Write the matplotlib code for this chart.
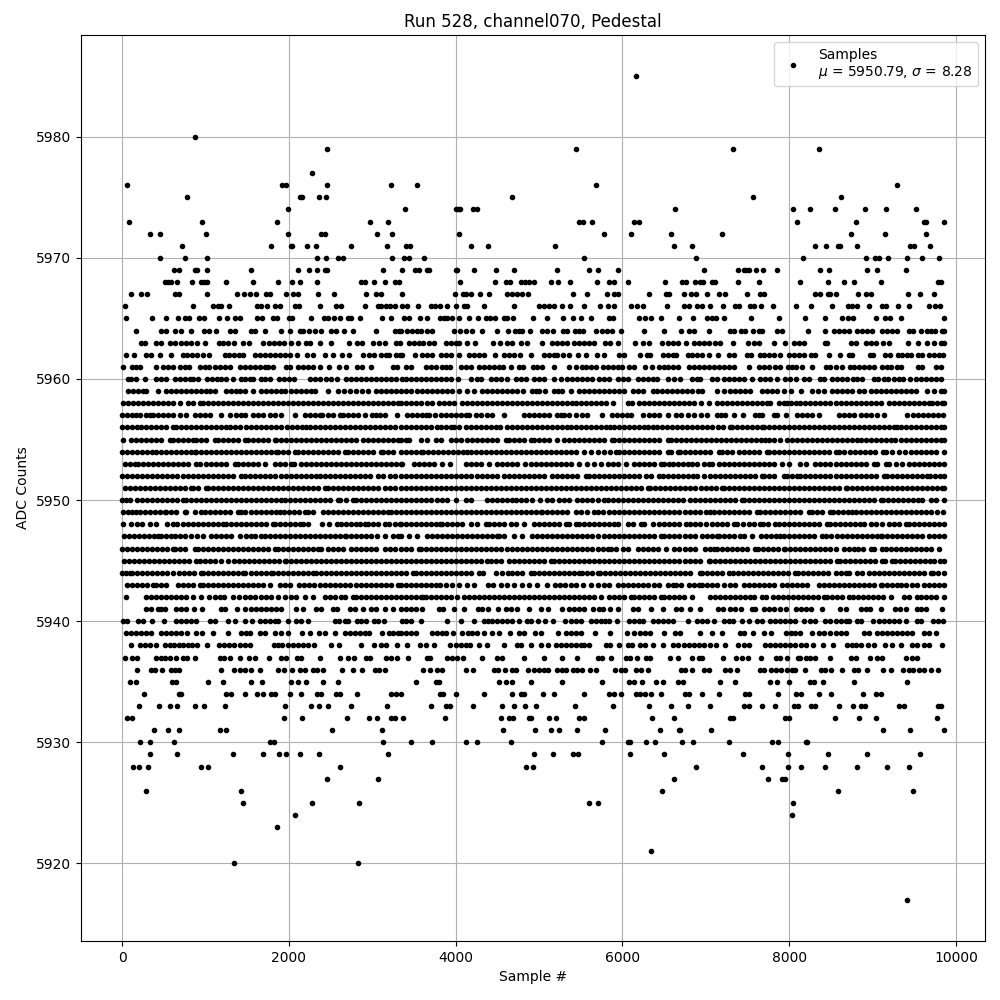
import matplotlib
matplotlib.use('Agg')
import matplotlib.pyplot as plt

# Sample numbers, one list per ADC count
s5985 = [6168]
s5980 = [870]
s5979 = [2454, 5445, 7323, 8355]
s5977 = [2274]
s5976 = [54, 1914, 1962, 2454, 3222, 3537, 5685, 9291]
s5975 = [774, 2134, 2158, 2358, 2442, 4677, 7563, 8619]
s5974 = [1986, 3393, 4001, 4030, 4053, 4209, 4253, 6633, 8043, 8247, 8547, 8907, 9159, 9519]
s5973 = [78, 954, 1854, 2970, 3186, 5481, 5529, 5637, 6141, 6201, 8091, 8799, 9620, 9640, 9855]
s5972 = [330, 450, 1002, 1986, 2382, 2430, 3054, 3234, 4041, 5781, 6105, 6585, 7191, 8739, 9147, 9639]
s5971 = [714, 1782, 2022, 2040, 2214, 2322, 2742, 3174, 3405, 3453, 4185, 4389, 5193, 6621, 6837,
         8307, 8439, 8583, 8607, 8811, 9447, 9495, 9687]
s5970 = [450, 750, 1014, 2334, 2442, 2586, 2646, 3234, 3381, 3441, 3621, 5541, 6885, 8163, 8919,
         9027, 9075, 9183, 9411, 9591, 9795]
s5969 = [618, 678, 870, 894, 1014, 1542, 2106, 2238, 2334, 2430, 2462, 3126, 3361, 3513, 3561,
         3661, 3681, 4005, 4021, 4221, 4485, 4701, 5217, 5601, 5709, 5949, 6975, 7383, 7455, 7485,
         7515, 7599, 7683, 7851, 8367, 8475, 8931, 9051, 9399]
s5968 = [510, 550, 582, 654, 834, 942, 982, 1022, 1242, 1566, 1866, 2034, 2130, 2334, 2862, 2910,
         3018, 3150, 3270, 3318, 4053, 4473, 4601, 4653, 4781, 4829, 4881, 4941, 5145, 5229, 5373,
         5697, 5841, 5901, 6069, 6513, 6717, 6765, 6867, 6927, 6967, 7075, 7115, 7383, 7635, 8127,
         8463, 8655, 8775, 9099, 9783, 9815]
s5967 = [102, 230, 294, 638, 678, 1014, 1374, 1458, 1530, 1602, 1722, 1770, 1962, 2046, 2110, 2346,
         2538, 2922, 3042, 3110, 3361, 3993, 4089, 4129, 4185, 4289, 4401, 4621, 4681, 4741, 4801,
         4869, 5409, 5577, 5817, 5901, 5949, 6321, 6521, 6561, 6741, 6825, 6885,
         7011, 7155, 7227, 7491, 7655, 7695, 8307, 8375, 8463, 8495, 8559, 8823, 8919, 8975, 9423,
         9567, 9735]
s5966 = [30, 846, 1090, 1150, 1190, 1278, 1614, 1670, 1738, 1838, 1890, 2070, 2118, 2370, 2562, 2622,
         2910, 3070, 3110, 3162, 3210, 3270, 3361, 3421, 3549, 3701, 3749, 3813, 3897, 4005, 4101,
         4141, 4341, 4701, 5001, 5061, 5121, 5181, 5273, 5373, 5541, 5733, 5821, 5901, 6105, 6177,
         6249, 6537, 6741, 6801, 6895, 6955, 7047, 7203, 7347, 7399, 7535, 7575,
         7659, 7811, 8079, 8259, 8511, 8703, 8755, 8815, 8955, 9115, 9155, 9303, 9435, 9675, 9747, 9807]
s5965 = [42, 354, 522, 670, 750, 798, 918, 978, 1158, 1262, 1358, 1418, 1614, 1674, 1814, 1862, 1998,
         2042, 2262, 2418, 2470, 2538, 2610, 2710, 2750, 2850, 3114, 3222, 3381, 3441, 3573, 3661,
         3813, 3861, 3901, 3961, 4041, 4161, 4269, 4361, 4413, 4473, 4581, 4621, 4693, 4929, 5097,
         5293, 5409, 5505, 5621, 5841, 5889, 6201, 6273, 6345, 6465, 6681, 6843, 7015, 7075, 7127,
         7215, 7539, 7875, 8187, 8427, 8631, 8703, 8763, 9039, 9147, 9207, 9339, 9855]
s5964 = [162, 462, 522, 638, 702, 822, 978, 1038, 1130, 1290, 1358, 1550, 1590, 1710, 1902, 2018, 2130,
         2170, 2238, 2310, 2382, 2510, 2570, 2658, 2766, 3042, 3270, 3318, 3341, 3413, 3473, 3533,
         3589, 3653, 3713, 3981, 4053, 4121, 4201, 4317, 4497, 4629, 4709, 4761, 4801, 4893, 5037,
         5093, 5169, 5289, 5341, 5429, 5481, 5529, 5681, 5753, 5813, 5873, 5985, 6261, 6501, 6705,
         6801, 6861, 7035, 7295, 7335, 7427, 7467, 7563, 7635, 7675, 7855, 7915, 8223,
         8427, 8535, 8595, 8655, 8715, 8815, 8875, 8935, 8995, 9115, 9175, 9235, 9295, 9435, 9487,
         9579, 9647, 9695, 9747, 9835, 9852]
s5963 = [230, 270, 410, 470, 570, 630, 710, 770, 830, 902, 990, 1158, 1210, 1270, 1342, 1446, 1518, 1686,
         1758, 1818, 1878, 1938, 2022, 2110, 2210, 2250, 2370, 2510, 2718, 2814, 2874, 3006, 3078, 3150,
         3290, 3330, 3441, 3501, 3561, 3613, 3681, 3741, 3881, 3941, 4001, 4041, 4141, 4233, 4453, 4533,
         4621, 4681, 4781, 4861, 5037, 5161, 5221, 5281, 5341, 5421, 5481, 5541, 5601, 5653, 5789, 5853,
         5941, 6153, 6249, 6321, 6473, 6541, 6601, 6669, 6761, 6863, 6915, 6975, 7035,
         7115, 7175, 7323, 7503, 7575, 7635, 7815, 7947, 8055, 8115, 8175, 8427, 8455, 8743, 8795, 8915,
         8975, 9035, 9123, 9195, 9423, 9543, 9655, 9735, 9823, 9853]
s5962 = [42, 138, 290, 350, 450, 582, 730, 782, 838, 902, 970, 1038, 1230, 1278, 1338, 1398, 1450, 1590,
         1650, 1710, 1770, 1830, 1890, 1950, 2010, 2094, 2222, 2290, 2430, 2526, 2634, 2718, 2886, 2958,
         3018, 3110, 3170, 3198, 3290, 3330, 3361, 3509, 3601, 3661, 3721, 3821, 3881, 3941, 4041, 4161,
         4221, 4281, 4341, 4469, 4581, 4641, 4701, 4773, 4901, 5061, 5121, 5181, 5221, 5289, 5361, 5469,
         5565, 5693, 5781, 5961, 6021, 6213, 6289, 6333, 6481, 6541, 6601, 6641, 6789, 6835,
         6895, 6955, 7035, 7143, 7275, 7335, 7495, 7543, 7647, 7695, 7755, 7815, 7887, 7995, 8055,
         8115, 8175, 8267, 8315, 8483, 8603, 8715, 8755, 8967, 9007, 9147, 9207, 9303, 9355, 9415, 9455,
         9543, 9595, 9675, 9735, 9795, 9843]
s5961 = [6, 114, 170, 210, 410, 490, 550, 610, 690, 750, 798, 930, 990, 1038, 1110, 1170, 1230, 1290, 1410,
         1470, 1530, 1590, 1650, 1710, 1750, 1810, 1970, 2018, 2110, 2170, 2230, 2286, 2370, 2478, 2598,
         2682, 2818, 2874, 2982, 3250, 3302, 3401, 3461, 3641, 3701, 3761, 3841, 3881, 3933, 4061, 4121,
         4189, 4281, 4341, 4401, 4461, 4521, 4573, 4661, 4761, 4813, 4929, 4981, 5037, 5181, 5361, 5445,
         5513, 5561, 5621, 5681, 5761, 5821, 5881, 5941, 5993, 6081, 6141, 6273, 6349, 6441, 6501, 6541,
         6601, 6669, 6795, 6855, 6915, 6975, 7035, 7095, 7155, 7215, 7275, 7335, 7523,
         7635, 7695, 7755, 7835, 7887, 7983, 8035, 8083, 8155, 8271, 8447, 8495, 8555, 8631, 8727, 8775,
         8835, 8895, 8955, 9015, 9115, 9175, 9223, 9287, 9343, 9543, 9595, 9763, 9823]
s5960 = [70, 110, 170, 278, 410, 470, 530, 630, 690, 750, 810, 850, 910, 1022, 1082, 1142, 1190, 1250, 1326,
         1430, 1478, 1530, 1570, 1662, 1710, 1770, 1878, 1942, 1998, 2062, 2250, 2310, 2370, 2450, 2510,
         2578, 2690, 2750, 2810, 2870, 2930, 2990, 3050, 3110, 3170, 3230, 3290, 3361, 3401, 3461, 3521,
         3581, 3641, 3701, 3761, 3821, 3881, 3941, 4029, 4185, 4261, 4301, 4421, 4481, 4541, 4621, 4721,
         4781, 4841, 4941, 5001, 5061, 5181, 5261, 5341, 5401, 5461, 5521, 5581, 5641, 5721, 5781, 5841,
         5941, 6001, 6061, 6181, 6241, 6301, 6361, 6413, 6541, 6621, 6693, 6835, 6895, 6935,
         7075, 7135, 7215, 7275, 7335, 7395, 7455, 7551, 7655, 7715, 7775, 7855, 7955, 8015, 8087, 8183,
         8235, 8375, 8423, 8515, 8575, 8635, 8687, 8767, 8815, 8875, 9015, 9063, 9135, 9183, 9255, 9315,
         9363, 9443, 9515, 9575, 9635, 9695, 9755, 9815]
s5959 = [70, 130, 190, 245, 290, 430, 530, 590, 650, 710, 770, 830, 890, 950, 1010, 1060, 1110, 1250, 1310,
         1365, 1410, 1478, 1570, 1670, 1730, 1790, 1850, 1900, 1950, 2030, 2090, 2150, 2210, 2260, 2310,
         2470, 2590, 2660, 2730, 2810, 2880, 2950, 3050, 3110, 3170, 3230, 3290, 3350, 3400, 3461, 3541,
         3601, 3661, 3720, 3780, 3840, 3900, 3960, 4041, 4141, 4221, 4321, 4380, 4440, 4501, 4561, 4620,
         4680, 4741, 4809, 4921, 4961, 5001, 5073, 5181, 5230, 5281, 5385, 5481, 5540, 5600, 5660, 5720,
         5780, 5840, 5901, 5961, 6021, 6121, 6181, 6241, 6361, 6420, 6480, 6540, 6600, 6660, 6720, 6780,
         6840, 6901, 6955, 7135, 7215, 7295, 7355, 7415, 7475, 7535, 7675, 7735, 7795, 7855, 7935, 8023,
         8139, 8275, 8340, 8415, 8515, 8575, 8635, 8695, 8755, 8835, 8895, 8975, 9035, 9095, 9155, 9215,
         9275, 9335, 9395, 9455, 9515, 9655, 9735, 9815, 9852]
s5958 = [10, 70, 130, 190, 250, 310, 370, 430, 490, 550, 610, 690, 790, 850, 930, 970, 1030, 1090, 1150, 1210,
         1270, 1330, 1390, 1450, 1510, 1570, 1630, 1690, 1750, 1810, 1870, 1930, 1990, 2050, 2110, 2170,
         2230, 2290, 2350, 2410, 2470, 2530, 2590, 2650, 2710, 2770, 2830, 2890, 2950, 3010, 3070, 3130,
         3190, 3250, 3310, 3350, 3401, 3461, 3520, 3580, 3661, 3721, 3801, 3860, 3920, 3980, 4081, 4141,
         4200, 4260, 4320, 4380, 4440, 4500, 4560, 4620, 4680, 4740, 4800, 4860, 4920, 4980, 5040, 5101,
         5160, 5220, 5280, 5340, 5401, 5441, 5500, 5560, 5620, 5680, 5740, 5800, 5881, 6061, 6120, 6201,
         6261, 6321, 6381, 6440, 6500, 6560, 6620, 6680, 6740, 6800, 6860, 6941, 7035, 7135, 7195, 7255,
         7315, 7375, 7435, 7495, 7555, 7615, 7675, 7735, 7775, 7875, 7935, 7975, 8023, 8080, 8135, 8195,
         8255, 8315, 8375, 8435, 8495, 8555, 8615, 8675, 8735, 8795, 8855, 8915, 8975, 9035, 9095, 9195,
         9255, 9315, 9375, 9435, 9495, 9555, 9615, 9675, 9715, 9775, 9835, 9855]
s5957 = [0, 60, 120, 170, 220, 290, 330, 370, 430, 490, 550, 610, 690, 770, 870, 930, 990, 1050, 1182, 1290,
         1370, 1430, 1470, 1570, 1630, 1690, 1770, 1838, 1910, 2070, 2190, 2250, 2310, 2370, 2395, 2470,
         2530, 2610, 2650, 2710, 2770, 2830, 2910, 2998, 3050, 3090, 3150, 3302, 3421, 3480, 3540, 3600,
         3641, 3681, 3750, 3821, 3881, 3940, 4000, 4060, 4120, 4161, 4241, 4300, 4373, 4441, 4581, 4821,
         4880, 4940, 5001, 5061, 5121, 5221, 5260, 5301, 5361, 5449, 5510, 5581, 5757, 5869, 5930, 5990,
         6050, 6101, 6241, 6321, 6380, 6441, 6541, 6641, 6700, 6781, 6861, 6945, 7015, 7135, 7185,
         7235, 7335, 7447, 7595, 7635, 7675, 7815, 7855, 7963, 8095, 8155, 8215, 8275, 8363, 8595, 8655,
         8715, 8775, 8855, 8915, 8975, 9055, 9135, 9415, 9480, 9540, 9600, 9660, 9720, 9790, 9850]
s5956 = [0, 60, 120, 180, 230, 290, 350, 410, 470, 530, 610, 650, 710, 770, 830, 890, 950, 1010, 1070, 1130,
         1190, 1250, 1290, 1350, 1410, 1490, 1540, 1600, 1660, 1720, 1780, 1850, 1902, 1982, 2040, 2100,
         2160, 2210, 2250, 2310, 2370, 2430, 2490, 2550, 2610, 2670, 2730, 2790, 2850, 2910, 2970, 3030,
         3090, 3150, 3210, 3270, 3350, 3401, 3461, 3521, 3581, 3641, 3701, 3773, 3821, 3880, 3940, 3981,
         4041, 4121, 4189, 4241, 4300, 4360, 4420, 4480, 4533, 4613, 4670, 4730, 4790, 4850, 4910, 4970,
         5030, 5090, 5150, 5210, 5270, 5333, 5381, 5440, 5500, 5560, 5620, 5680, 5740, 5800, 5853, 5901,
         5960, 6020, 6080, 6140, 6200, 6260, 6301, 6361, 6420, 6480, 6540, 6600, 6660, 6720, 6780, 6840,
         6900, 6960, 7020, 7080, 7140, 7200, 7287, 7315, 7375, 7435, 7495, 7555, 7615, 7675, 7695, 7755,
         7815, 7875, 7935, 7995, 8055, 8115, 8175, 8235, 8295, 8355, 8415, 8475, 8535, 8595, 8655, 8715,
         8775, 8835, 8895, 8955, 9015, 9075, 9135, 9195, 9255, 9287, 9345, 9405, 9465, 9525, 9585, 9645,
         9705, 9765, 9825, 9855]
s5955 = [10, 110, 170, 230, 290, 350, 410, 470, 570, 610, 670, 730, 790, 850, 890, 950, 1010, 1110, 1150, 1210,
         1270, 1330, 1390, 1470, 1510, 1570, 1630, 1690, 1750, 1830, 1850, 1910, 1970, 2030, 2090, 2150,
         2210, 2270, 2330, 2390, 2450, 2510, 2570, 2630, 2690, 2750, 2810, 2890, 2950, 3010, 3070, 3130,
         3190, 3250, 3310, 3350, 3401, 3441, 3581, 3661, 3761, 3820, 3941, 4001, 4061, 4141, 4200, 4260,
         4320, 4380, 4440, 4500, 4601, 4641, 4700, 4760, 4820, 4901, 4941, 5000, 5060, 5120, 5221, 5301,
         5360, 5420, 5480, 5540, 5600, 5660, 5720, 5780, 5869, 5901, 5960, 6020, 6080, 6140, 6200, 6260,
         6320, 6380, 6440, 6541, 6581, 6640, 6700, 6760, 6820, 6880, 6941, 7000, 7060, 7120, 7180, 7240,
         7300, 7360, 7420, 7480, 7540, 7600, 7660, 7715, 7755, 7815, 7895, 7975, 8035, 8095, 8155, 8215,
         8275, 8335, 8395, 8455, 8515, 8575, 8635, 8695, 8755, 8815, 8855, 8915, 8975, 9035, 9095, 9155,
         9215, 9267, 9335, 9395, 9455, 9515, 9575, 9635, 9695, 9755, 9815, 9855]
s5954 = [0, 60, 120, 180, 240, 300, 360, 410, 470, 530, 590, 650, 710, 770, 830, 870, 890, 950, 1010, 1070,
         1130, 1190, 1250, 1310, 1370, 1430, 1490, 1550, 1610, 1670, 1730, 1790, 1850, 1870, 1930, 1990,
         2070, 2110, 2170, 2230, 2290, 2350, 2410, 2470, 2530, 2590, 2670, 2710, 2770, 2830, 2890, 2950,
         3010, 3110, 3130, 3190, 3250, 3350, 3401, 3461, 3521, 3581, 3613, 3673, 3733, 3793, 3853, 3913,
         3973, 4033, 4093, 4141, 4181, 4241, 4301, 4361, 4421, 4481, 4541, 4601, 4661, 4721, 4781, 4841,
         4901, 4961, 5021, 5081, 5141, 5201, 5261, 5321, 5381, 5441, 5541, 5621, 5701, 5781, 5850, 5921,
         5961, 6021, 6081, 6141, 6201, 6261, 6321, 6381, 6441, 6541, 6581, 6661,
         6695, 6755, 6815, 6875, 6935, 6995, 7055, 7155, 7195, 7255, 7315, 7395, 7455, 7515, 7575, 7635,
         7735, 7755, 7815, 7875, 7935, 7995, 8055, 8115, 8175, 8235, 8295, 8355, 8415, 8475, 8555, 8595,
         8660, 8727, 8787, 8847, 8907, 8967, 9027, 9127, 9155, 9235, 9315, 9383, 9463, 9523, 9583, 9643,
         9703, 9763, 9855]
s5953 = [38, 100, 150, 190, 250, 310, 370, 430, 490, 550, 610, 670, 730, 790, 890, 938, 1010, 1070, 1130, 1190,
         1250, 1350, 1390, 1450, 1510, 1570, 1630, 1710, 1830, 1890, 1950, 2030, 2062, 2150, 2210, 2270,
         2330, 2390, 2450, 2510, 2570, 2630, 2690, 2750, 2810, 2870, 2930, 2990, 3050, 3110, 3170, 3230,
         3290, 3350, 3361, 3501, 3561, 3621, 3681, 3741, 3841, 3933, 4121, 4181, 4241, 4301, 4401, 4501,
         4561, 4621, 4681, 4741, 4829, 4901, 4961, 5021, 5081, 5141, 5201, 5261, 5321, 5381, 5481, 5581,
         5661, 5741, 5821, 5881, 5941, 6041, 6141, 6201, 6261, 6321, 6381, 6461, 6501, 6561, 6601, 6661,
         6721, 6781, 6835, 6895, 6975, 7035, 7075, 7155, 7215, 7275, 7335, 7395, 7455, 7515, 7575,
         7635, 7695, 7755, 7815, 7915, 7995, 8135, 8207, 8315, 8375, 8435, 8495, 8555, 8615, 8675, 8735,
         8795, 8855, 8915, 9015, 9055, 9155, 9195, 9275, 9355, 9435, 9495, 9555, 9615, 9675, 9735, 9795, 9855]
s5952 = [0, 60, 120, 180, 240, 300, 360, 420, 480, 540, 600, 660, 730, 790, 850, 910, 970, 1030, 1090, 1150,
         1210, 1270, 1330, 1430, 1470, 1530, 1590, 1650, 1710, 1770, 1830, 1910, 1970, 2030, 2090, 2150,
         2210, 2270, 2330, 2370, 2430, 2490, 2550, 2610, 2670, 2730, 2790, 2850, 2910, 2970, 3070, 3130,
         3210, 3270, 3350, 3401, 3461, 3521, 3581, 3641, 3701, 3761, 3821, 3881, 3941, 4001, 4061,
         4121, 4181, 4261, 4321, 4381, 4441, 4501, 4581, 4641, 4701, 4761, 4821, 4881, 4941, 5001, 5061,
         5161, 5221, 5281, 5341, 5401, 5461, 5561, 5601, 5661, 5721, 5781, 5841, 5901, 5961, 6021, 6081,
         6141, 6201, 6281, 6341, 6441, 6481, 6541, 6601, 6661, 6721, 6781, 6841, 6895,
         6983, 7055, 7115, 7175, 7235, 7295, 7355, 7415, 7475, 7535, 7595, 7675, 7703, 7763, 7823, 7935,
         7975, 8035, 8095, 8127, 8187, 8255, 8315, 8375, 8435, 8495, 8555, 8615, 8675, 8735, 8795, 8855,
         8915, 8975, 9035, 9135, 9175, 9235, 9295, 9355, 9415, 9475, 9535, 9595, 9655, 9687, 9747, 9807, 9855]
s5951 = [30, 90, 150, 210, 270, 330, 390, 450, 510, 570, 630, 690, 750, 830, 850, 910, 1010, 1030, 1090, 1150,
         1210, 1270, 1330, 1390, 1450, 1510, 1570, 1630, 1690, 1750, 1810, 1870, 1930, 1990, 2050, 2110,
         2170, 2230, 2290, 2350, 2430, 2470, 2530, 2590, 2650, 2710, 2770, 2830, 2890, 2950, 3010, 3070,
         3150, 3210, 3270, 3350, 3400, 3460, 3520, 3580, 3640, 3700, 3760, 3820, 3880, 3940, 4000, 4060,
         4120, 4180, 4240, 4300, 4360, 4420, 4480, 4540, 4600, 4660, 4720, 4780, 4840, 4900, 4960, 5020,
         5080, 5140, 5200, 5260, 5320, 5380, 5440, 5500, 5560, 5620, 5680, 5740, 5800, 5860, 5920, 5980,
         6040, 6100, 6160, 6220, 6301, 6333, 6393, 6453, 6513, 6573, 6633, 6693, 6753, 6813, 6873, 6941,
         7000, 7060, 7120, 7195, 7215, 7275, 7335, 7395, 7455, 7515, 7575, 7635, 7695, 7755, 7815, 7875,
         7935, 7995, 8055, 8115, 8175, 8235, 8295, 8355, 8415, 8475, 8535, 8595, 8675, 8695, 8755, 8815,
         8875, 8935, 8995, 9055, 9115, 9175, 9235, 9295, 9355, 9415, 9475, 9535, 9595, 9655, 9715, 9775,
         9835, 9855]
s5950 = [0, 50, 100, 180, 240, 300, 360, 420, 480, 540, 600, 660, 730, 770, 830, 890, 950, 1010, 1070, 1130,
         1190, 1250, 1310, 1370, 1430, 1490, 1550, 1610, 1670, 1730, 1790, 1850, 1910, 1950, 2010, 2070,
         2130, 2190, 2250, 2310, 2370, 2430, 2490, 2590, 2610, 2680, 2770, 2810, 2870, 2930, 2990, 3050,
         3110, 3170, 3230, 3290, 3341, 3401, 3461, 3521, 3581, 3641, 3701, 3781, 3841, 3901, 4001, 4121,
         4181, 4381, 4441, 4501, 4561, 4621, 4681, 4721, 4781, 4841, 4921, 5013, 5101, 5161, 5241, 5301,
         5361, 5461, 5521, 5581, 5641, 5701, 5781, 5821, 5881, 5941, 6001, 6061, 6121, 6181, 6241, 6301,
         6361, 6421, 6481, 6541, 6601, 6661, 6721, 6815, 6875, 6935, 6995, 7055,
         7115, 7175, 7235, 7295, 7355, 7435, 7455, 7515, 7575, 7635, 7695, 7755, 7815, 7875, 7935, 7995,
         8055, 8115, 8175, 8235, 8295, 8355, 8415, 8475, 8535, 8595, 8655, 8715, 8775, 8835, 8895, 8955,
         9015, 9095, 9127, 9187, 9247, 9307, 9367, 9427, 9487, 9547, 9595, 9695, 9755, 9855]
s5949 = [10, 70, 120, 170, 210, 270, 330, 390, 450, 510, 530, 590, 650, 750, 770, 870, 942, 1000, 1060, 1120,
         1180, 1240, 1300, 1390, 1430, 1478, 1540, 1600, 1660, 1720, 1780, 1840, 1890, 1942, 2000, 2060,
         2120, 2190, 2230, 2290, 2410, 2470, 2530, 2590, 2650, 2710, 2770, 2830, 2890, 2950, 3010, 3070,
         3130, 3190, 3230, 3290, 3350, 3401, 3461, 3521, 3581, 3641, 3701, 3761, 3821, 3881, 3941, 4001,
         4061, 4121, 4181, 4241, 4301, 4361, 4421, 4481, 4541, 4601, 4661, 4721, 4781, 4841, 4901, 4961,
         5021, 5041, 5101, 5161, 5221, 5281, 5341, 5441, 5501, 5581, 5661, 5701, 5771, 5841, 5901, 5961,
         6021, 6081, 6141, 6201, 6261, 6321, 6381, 6441, 6501, 6561, 6621, 6681, 6755, 6815, 6875, 6935,
         7005, 7055, 7095, 7155, 7215, 7275, 7335, 7395, 7455, 7515, 7615, 7655,
         7715, 7775, 7835, 7895, 7955, 8015, 8075, 8135, 8235, 8275, 8335, 8395, 8495, 8527, 8587, 8647,
         8707, 8755, 8803, 8863, 8923, 8983, 9043, 9103, 9163, 9223, 9283, 9343, 9403, 9463, 9523, 9583,
         9643, 9703, 9775, 9843]
s5948 = [10, 102, 182, 240, 330, 402, 538, 610, 662, 730, 790, 850, 910, 970, 1030, 1090, 1150, 1210, 1250, 1310,
         1370, 1430, 1490, 1550, 1610, 1670, 1730, 1810, 1830, 1890, 1950, 2010, 2070, 2130, 2170, 2230,
         2398, 2478, 2582, 2630, 2690, 2750, 2810, 2850, 2910, 2950, 3010, 3070, 3150, 3198, 3270, 3330,
         3341, 3401, 3461, 3521, 3581, 3641, 3701, 3761, 3813, 3841, 3901, 3961, 4021, 4081, 4181, 4261,
         4361, 4401, 4461, 4521, 4581, 4661, 4721, 4821, 4941, 5001, 5061, 5121, 5181, 5241, 5321, 5361,
         5441, 5481, 5541, 5601, 5661, 5721, 5781, 5841, 5901, 5949, 6061, 6121, 6221, 6261, 6361, 6441,
         6501, 6561, 6621, 6681, 6767, 6815, 6875, 6935, 7005, 7075, 7135, 7195, 7255,
         7335, 7375, 7445, 7515, 7575, 7647, 7687, 7747, 7835, 7875, 7935, 7995, 8055, 8115, 8175, 8235,
         8295, 8355, 8455, 8487, 8547, 8607, 8667, 8727, 8787, 8847, 8895, 8983, 9043, 9115, 9195, 9255,
         9315, 9395, 9435, 9495, 9555, 9615, 9675, 9735, 9795, 9855]
s5947 = [22, 80, 140, 200, 260, 320, 380, 430, 462, 530, 590, 630, 690, 750, 830, 900, 970, 1070, 1130, 1190,
         1250, 1310, 1410, 1490, 1550, 1590, 1670, 1710, 1770, 1830, 1890, 1950, 2010, 2070, 2130, 2190,
         2250, 2310, 2370, 2430, 2490, 2550, 2610, 2670, 2690, 2750, 2810, 2870, 2930, 2990, 3062, 3150,
         3250, 3310, 3350, 3441, 3541, 3653, 3713, 3773, 3833, 3893, 3953, 4013, 4073, 4133, 4193,
         4253, 4313, 4373, 4433, 4501, 4521, 4581, 4701, 4801, 4921, 4981, 5041, 5101, 5161, 5221, 5281,
         5341, 5401, 5461, 5521, 5581, 5641, 5701, 5781, 5841, 5901, 5961, 6021, 6081, 6141, 6201, 6261,
         6321, 6381, 6461, 6501, 6561, 6621, 6681, 6755, 6815, 6875, 6955,
         7015, 7075, 7135, 7155, 7215, 7275, 7335, 7415, 7463, 7555, 7663, 7723, 7783, 7843, 7895, 7935,
         7995, 8055, 8115, 8175, 8235, 8295, 8395, 8447, 8507, 8567, 8627, 8687, 8747, 8807, 8867, 8927,
         8987, 9047, 9095, 9115, 9175, 9235, 9295, 9355, 9415, 9475, 9535, 9595, 9675, 9735, 9795, 9855]
s5946 = [0, 60, 120, 180, 240, 300, 360, 420, 480, 540, 610, 638, 700, 760, 870, 910, 970, 1030, 1090, 1150, 1210,
         1270, 1330, 1390, 1450, 1510, 1570, 1630, 1690, 1750, 1830, 1870, 1930, 1990, 2050, 2110, 2170,
         2230, 2290, 2350, 2390, 2470, 2530, 2590, 2650, 2750, 2810, 2870, 2930, 2990, 3050, 3150, 3210,
         3270, 3350, 3401, 3461, 3561, 3589, 3649, 3709, 3769, 3829, 3889, 3949, 4009, 4069, 4129, 4189,
         4249, 4309, 4369, 4429, 4489, 4549, 4621, 4681, 4741, 4801, 4861, 4921, 4981, 5041, 5101, 5161,
         5221, 5281, 5341, 5401, 5461, 5521, 5581, 5641, 5701, 5761, 5821, 5861, 5920, 6001, 6061, 6181,
         6241, 6301, 6361, 6421, 6521, 6621, 6681, 6755, 6815, 6875, 6995, 7055,
         7095, 7135, 7195, 7255, 7315, 7375, 7435, 7495, 7595, 7623, 7683, 7743, 7803, 7863, 7935, 7955,
         8015, 8075, 8135, 8195, 8255, 8315, 8375, 8435, 8495, 8555, 8655, 8715, 8775, 8827, 8887, 8975,
         9015, 9115, 9155, 9215, 9275, 9335, 9395, 9455, 9515, 9575, 9635, 9695, 9795]
s5945 = [22, 80, 140, 200, 260, 320, 380, 440, 500, 560, 620, 680, 740, 800, 890, 930, 990, 1050, 1110, 1190,
         1270, 1338, 1400, 1460, 1520, 1580, 1640, 1700, 1760, 1820, 1880, 1950, 1970, 2030, 2090, 2150,
         2210, 2270, 2330, 2390, 2450, 2510, 2570, 2630, 2690, 2750, 2810, 2870, 2930, 2990, 3050, 3110,
         3170, 3230, 3290, 3350, 3401, 3461, 3521, 3581, 3641, 3701, 3761, 3821, 3881, 3941, 4001, 4061,
         4121, 4181, 4241, 4301, 4381, 4421, 4481, 4541, 4641, 4701, 4761, 4821, 4881, 4941, 5001, 5061,
         5141, 5181, 5241, 5301, 5361, 5421, 5481, 5541, 5601, 5661, 5721, 5781, 5841, 5901, 5961, 6021,
         6081, 6141, 6201, 6261, 6321, 6381, 6441, 6501, 6561, 6621, 6681, 6755,
         6815, 6875, 6935, 7035, 7055, 7115, 7175, 7235, 7295, 7355, 7415, 7475, 7535, 7595, 7655, 7715,
         7775, 7835, 7895, 7955, 8015, 8075, 8135, 8195, 8255, 8315, 8375, 8435, 8495, 8575, 8607, 8667,
         8727, 8787, 8847, 8907, 8967, 9027, 9115, 9143, 9235, 9263, 9323, 9383, 9443, 9503, 9563, 9623,
         9683, 9735, 9807, 9855]
s5944 = [0, 50, 90, 118, 180, 240, 300, 360, 420, 480, 540, 610, 678, 740, 800, 860, 950, 970, 1030, 1090, 1150,
         1210, 1270, 1330, 1390, 1450, 1478, 1540, 1600, 1660, 1720, 1790, 1810, 1870, 1930, 1990, 2050,
         2110, 2170, 2230, 2290, 2322, 2382, 2442, 2502, 2562, 2622, 2682, 2742, 2802, 2862, 2922, 2982,
         3042, 3102, 3162, 3222, 3282, 3350, 3401, 3493, 3521, 3581, 3641, 3701, 3761, 3821, 3881, 3941,
         4001, 4061, 4121, 4181, 4281, 4333, 4481, 4561, 4629, 4681, 4741, 4801, 4901, 4941, 5001, 5061,
         5121, 5181, 5241, 5301, 5361, 5421, 5481, 5521, 5581, 5641, 5701, 5733, 5793, 5853, 5913, 5973,
         6033, 6093, 6153, 6213, 6273, 6333, 6393, 6453, 6513, 6573, 6633, 6693, 6755, 6815, 6935, 6955,
         7015, 7075, 7135, 7195, 7275, 7323, 7383, 7443, 7503, 7563, 7623, 7683,
         7743, 7803, 7863, 7923, 7983, 8075, 8103, 8163, 8223, 8283, 8343, 8403, 8463, 8555, 8615, 8675,
         8715, 8815, 8875, 8955, 9015, 9075, 9135, 9195, 9255, 9315, 9375, 9435, 9495, 9555, 9615, 9695,
         9727, 9787, 9855]
s5943 = [62, 120, 180, 240, 300, 370, 410, 470, 530, 670, 730, 790, 850, 930, 970, 1030, 1090, 1150, 1210, 1270,
         1330, 1390, 1450, 1510, 1570, 1630, 1690, 1770, 1890, 1950, 2010, 2118, 2180, 2240, 2300, 2370,
         2430, 2490, 2550, 2610, 2670, 2730, 2810, 2870, 2930, 2990, 3050, 3110, 3170, 3230, 3310, 3341,
         3401, 3461, 3521, 3581, 3641, 3701, 3761, 3813, 3880, 3961, 4041, 4141, 4221, 4389, 4450, 4541,
         4621, 4701, 4801, 4881, 4981, 5093, 5193, 5253, 5313, 5381, 5441, 5533, 5621, 5701, 5781, 5840,
         5941, 6001, 6061, 6121, 6181, 6241, 6301, 6381, 6441, 6541, 6601, 6641, 6701, 6795, 6855, 6915, 6955,
         7015, 7075, 7135, 7215, 7295, 7355, 7455, 7515, 7575, 7635, 7695,
         7755, 7815, 7915, 7975, 8035, 8095, 8155, 8215, 8355, 8415, 8475, 8535, 8595, 8655, 8715, 8775,
         8835, 8895, 8955, 9015, 9095, 9115, 9175, 9235, 9295, 9335, 9395, 9475, 9527, 9615, 9675, 9735, 9795, 9855]
s5942 = [42, 290, 350, 410, 470, 530, 590, 650, 710, 770, 850, 950, 1038, 1110, 1170, 1222, 1330, 1400, 1470, 1530,
         1590, 1662, 1730, 1790, 1870, 1950, 2030, 2090, 2198, 2290, 2430, 2490, 2550, 2630, 2670, 2770, 2810,
         2870, 2930, 2990, 3050, 3110, 3170, 3230, 3290, 3350, 3401, 3461, 3521, 3581, 3613, 3641, 3701,
         3761, 3821, 3881, 3941, 4021, 4101, 4161, 4221, 4281, 4341, 4401, 4461, 4521, 4581, 4641, 4701,
         4761, 4821, 4881, 4941, 5001, 5061, 5121, 5181, 5241, 5301, 5361, 5421, 5481, 5541, 5601, 5661,
         5741, 5841, 5901, 5961, 6021, 6101, 6141, 6201, 6261, 6321, 6381, 6461, 6501, 6561, 6621, 6681,
         6741, 6835, 7055, 7115, 7175, 7235, 7295, 7355, 7415, 7475, 7535, 7575, 7675,
         7723, 7807, 7867, 7927, 7987, 8047, 8107, 8167, 8227, 8287, 8347, 8415, 8455, 8515, 8575, 8635,
         8715, 8767, 8827, 8887, 8947, 9007, 9067, 9127, 9215, 9375, 9435, 9535, 9575, 9635, 9695, 9755, 9855]
s5941 = [282, 342, 430, 470, 518, 650, 702, 762, 858, 954, 1182, 1238, 1374, 1470, 1542, 1610, 1670, 1730, 1790,
         1850, 1910, 2082, 2166, 2330, 2382, 2530, 2582, 2730, 2790, 2886, 2990, 3050, 3150, 3250, 3341,
         3401, 3461, 3521, 3601, 3801, 3849, 3981, 4101, 4269, 4321, 4389, 4509, 4601, 4661, 4741, 4881,
         5021, 5109, 5277, 5361, 5421, 5481, 5541, 5649, 5721, 5769, 5853, 5941, 6129, 6189, 6345, 6481,
         6645, 6701, 6813, 6927, 7143, 7203, 7295, 7355, 7423, 7555, 7595, 7703, 7755, 7823,
         7895, 7967, 8087, 8143, 8207, 8267, 8391, 8607, 8683, 8859, 8919, 8967, 9103, 9267, 9327, 9395,
         9527, 9583, 9635, 9831]
s5940 = [6, 54, 190, 250, 354, 498, 650, 710, 770, 830, 890, 1050, 1110, 1266, 1350, 1470, 1554, 1650, 1710, 1770,
         1830, 1870, 1986, 2090, 2142, 2226, 2550, 2598, 2670, 2710, 2818, 2870, 2930, 3018, 3070, 3138,
         3361, 3401, 3465, 3585, 3897, 4065, 4221, 4341, 4389, 4441, 4501, 4553, 4613, 4681, 4761, 4861,
         4909, 4989, 5073, 5173, 5313, 5381, 5441, 5505, 5621, 5681, 5741, 5789, 5841, 5937, 6081, 6133,
         6201, 6241, 6361, 6421, 6481, 6541, 6601, 6789, 6895, 6955, 7015, 7095, 7215, 7275,
         7327, 7431, 7515, 7615, 7675, 7775, 7835, 7895, 7955, 8015, 8075, 8175, 8255, 8315, 8427, 8495,
         8555, 8615, 8675, 8715, 8815, 8855, 9007, 9075, 9135, 9195, 9255, 9315, 9395, 9535, 9583, 9723,
         9783, 9843]
s5939 = [42, 102, 162, 230, 282, 342, 462, 530, 590, 650, 710, 782, 882, 962, 1086, 1266, 1430, 1482, 1530, 1650,
         1718, 1838, 1910, 1986, 2154, 2250, 2358, 2430, 2550, 2670, 2730, 2790, 2850, 2910, 2962, 3114,
         3198, 3250, 3310, 3341, 3401, 3461, 3521, 3721, 3781, 3841, 3881, 3969, 4081, 4149, 4201, 4253,
         4341, 4437, 4521, 4653, 4761, 4821, 4953, 5025, 5229, 5329, 5389, 5449, 5509, 5673, 5853, 6053,
         6141, 6213, 6269, 6333, 6501, 6633, 6693, 6927, 7071, 7191, 7407, 7455, 7563, 7695, 7783,
         7967, 8027, 8075, 8135, 8271, 8355, 8423, 8495, 8555, 8615, 8683, 8895, 8955, 9055, 9115, 9175,
         9235, 9295, 9355, 9415, 9475, 9615, 9675, 9759]
s5938 = [102, 210, 270, 330, 410, 518, 570, 618, 678, 730, 790, 838, 898, 1014, 1158, 1218, 1278, 1338, 1410, 1470,
         1530, 1818, 1870, 1914, 1990, 2050, 2110, 2170, 2230, 2302, 2502, 2598, 2870, 3018, 3110, 3170,
         3294, 3417, 3569, 3649, 3741, 3933, 4009, 4069, 4121, 4173, 4281, 4381, 4581, 4741, 4789, 4905,
         5021, 5109, 5201, 5261, 5321, 5381, 5441, 5501, 5541, 5601, 5801, 5853, 5961, 6061, 6109, 6213,
         6269, 6361, 6489, 6601, 6661, 6735, 6795, 6855, 6915, 6975, 7055, 7127,
         7227, 7383, 7455, 7515, 7715, 7775, 7835, 7895, 7955, 8015, 8075, 8143, 8207, 8283, 8403, 8527,
         8695, 8755, 8803, 8859, 8943, 9015, 9147, 9235, 9339, 9475, 9527, 9615, 9675, 9835]
s5937 = [30, 114, 174, 410, 470, 510, 570, 646, 730, 782, 870, 1170, 1222, 1290, 1410, 1518, 1590, 1758, 1910, 1970,
         2102, 2150, 2378, 2610, 2710, 2778, 2922, 2970, 3170, 3230, 3302, 3429, 3653, 3693, 3897, 3961,
         4021, 4089, 4317, 4497, 4557, 4821, 5061, 5277, 5453, 5709, 5753, 5865, 6041, 6093, 6177, 6281,
         6333, 6573, 6669, 6831, 6915, 6955, 7203, 7359, 7431, 7503, 7659, 7843, 7887, 7971,
         8103, 8135, 8207, 8255, 8307, 8487, 8743, 8795, 8967, 9055, 9111, 9399, 9475, 9527]
s5936 = [174, 350, 398, 474, 582, 630, 678, 1182, 1338, 1410, 1470, 1550, 1650, 1866, 1938, 2034, 2130, 2190, 2286,
         2334, 2406, 2634, 2766, 2882, 3030, 3078, 3150, 3609, 3693, 3781, 3841, 4125, 4209, 4461, 4509,
         4593, 4681, 4729, 4869, 4941, 5001, 5061, 5109, 5213, 5273, 5329, 5409, 5461, 5517, 5613, 5685,
         5913, 5981, 6029, 6161, 6221, 6309, 6701, 6755, 6831, 6975, 7035, 7235, 7295,
         7375, 7647, 7695, 7783, 7843, 7903, 7975, 8035, 8075, 8187, 8379, 8427, 8503, 8631, 8775, 8827,
         8931, 9123, 9219, 9363, 9435, 9483, 9555, 9615, 9695, 9783]
s5935 = [90, 162, 602, 650, 1030, 1206, 1542, 1674, 2022, 2106, 2202, 2406, 2586, 3525, 3761, 3801, 4521, 4601, 4677,
         4905, 5277, 5757, 6081, 6141, 6237, 6405, 6489, 6669, 6729, 7167, 7347, 7767, 7851, 7995, 8255,
         8303, 8403, 8775, 9411]
s5934 = [258, 678, 710, 1242, 1310, 1470, 1614, 1690, 1790, 1830, 2018, 2142, 2334, 2390, 2570, 2610, 2814, 3230,
         3290, 3341, 3813, 3849, 4009, 4341, 4677, 4781, 4821, 5049, 5181, 5541, 5841, 5901, 5985, 6161, 6213,
         6273, 6341, 6461, 6755, 6795, 6951, 7155, 7475, 7523, 7863, 8079, 8143, 8355, 8499, 8883,
         9039, 9103]
s5933 = [198, 438, 570, 654, 870, 978, 1230, 1950, 2270, 2358, 2466, 2742, 3174, 3705, 3881, 3933, 4209, 4557, 4701,
         4833, 4965, 5433, 5889, 6321, 6585, 6785, 7047, 7455, 7515, 7671, 7827, 8055, 8103, 8267, 8315,
         8595, 8763, 8855, 8907, 9315, 9375, 9783, 9815]
s5932 = [54, 114, 1938, 2154, 2694, 2958, 3054, 3230, 3270, 3369, 3873, 4545, 4641, 4689, 4881, 4909, 5121, 5201,
         5481, 5541, 6357, 6621, 7295, 7323, 7955, 7995, 8547, 8831, 9039, 9771]
s5931 = [378, 546, 678, 1170, 1242, 2514, 3114, 4569, 4953, 5145, 5241, 5457, 5793, 6453, 6681, 6695, 7059, 9123,
         9447, 9855]
s5930 = [210, 330, 618, 1770, 1818, 3130, 3465, 3717, 4125, 4257, 4665, 5757, 6069, 6085, 6285, 6393, 6717, 6849,
         7275, 7791, 7863, 8199, 8215]
s5929 = [330, 654, 1326, 1686, 1878, 1962, 2130, 2358, 3186, 4941, 5169, 5409, 5469, 6093, 6501, 7443, 7983, 8463,
         8931, 9567]
s5928 = [126, 198, 306, 942, 1026, 2610, 4845, 4929, 6885, 7671, 7983, 8139, 8427, 8811, 9171, 9435]
s5927 = [2454, 3066, 6621, 7743, 7915, 7955]
s5926 = [282, 1422, 6477, 8583, 9483]
s5925 = [1446, 2274, 2838, 5601, 5709, 8043]
s5924 = [2070, 8031]
s5923 = [1854]
s5921 = [6345]
s5920 = [1338, 2826]
s5917 = [9411]

rows = [(5985, s5985), (5980, s5980), (5979, s5979), (5977, s5977), (5976, s5976), (5975, s5975),
        (5974, s5974), (5973, s5973), (5972, s5972), (5971, s5971), (5970, s5970), (5969, s5969),
        (5968, s5968), (5967, s5967), (5966, s5966), (5965, s5965), (5964, s5964), (5963, s5963),
        (5962, s5962), (5961, s5961), (5960, s5960), (5959, s5959), (5958, s5958), (5957, s5957),
        (5956, s5956), (5955, s5955), (5954, s5954), (5953, s5953), (5952, s5952), (5951, s5951),
        (5950, s5950), (5949, s5949), (5948, s5948), (5947, s5947), (5946, s5946), (5945, s5945),
        (5944, s5944), (5943, s5943), (5942, s5942), (5941, s5941), (5940, s5940), (5939, s5939),
        (5938, s5938), (5937, s5937), (5936, s5936), (5935, s5935), (5934, s5934), (5933, s5933),
        (5932, s5932), (5931, s5931), (5930, s5930), (5929, s5929), (5928, s5928), (5927, s5927),
        (5926, s5926), (5925, s5925), (5924, s5924), (5923, s5923), (5921, s5921), (5920, s5920),
        (5917, s5917)]

mean_adc = 5950.79
std_adc = 8.28

sample_num = []
adc_counts = []
for level, samples in rows:
    sample_num.extend(samples)
    adc_counts.extend([level] * len(samples))

plt.figure(figsize=(10, 10))
plt.plot(sample_num, adc_counts, 'k.',
         label=f'Samples\n$\\mu$ = {mean_adc:.2f}, $\\sigma$ = {std_adc:.2f}')
plt.xlabel('Sample #')
plt.ylabel('ADC Counts')
plt.title('Run 528, channel070, Pedestal')
plt.grid(True)
plt.legend(loc='upper right')
plt.subplots_adjust(left=0.081, right=0.985, bottom=0.059, top=0.965)
plt.savefig('out.png', dpi=100)
